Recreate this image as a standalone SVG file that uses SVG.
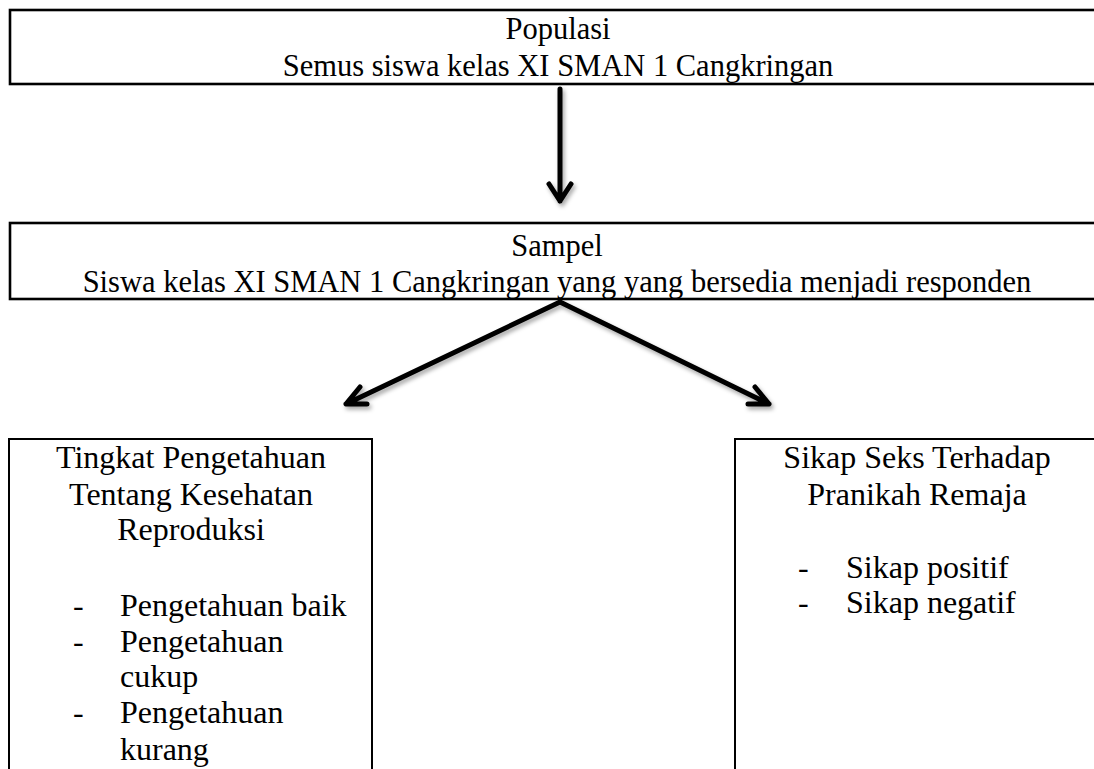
<svg xmlns="http://www.w3.org/2000/svg" width="1094" height="769" viewBox="0 0 1094 769">
<style>
text{font-family:"Liberation Serif","Times New Roman",serif;fill:#000}
.t{font-size:30.5px}
.b{font-size:32px}
.c{text-anchor:middle}
.box{fill:#fff;stroke:#000;stroke-width:2.6}
.box2{fill:#fff;stroke:#000;stroke-width:2}
.arr{fill:none;stroke:#000;stroke-width:5;stroke-linecap:round;stroke-linejoin:round}
</style>
<defs>
<filter id="sh" x="-20%" y="-20%" width="140%" height="140%">
<feDropShadow dx="2" dy="3" stdDeviation="2" flood-color="#000" flood-opacity="0.35"/>
</filter>
</defs>
<rect width="1094" height="769" fill="#fff"/>
<g id="populasi">
<rect class="box" x="10" y="10" width="1100" height="74"/>
<text class="t c" x="558" y="39">Populasi</text>
<text class="t c" x="558" y="76">Semus siswa kelas XI SMAN 1 Cangkringan</text>
</g>
<g id="sampel">
<rect class="box" x="10" y="223" width="1100" height="76"/>
<text class="t c" x="557" y="256">Sampel</text>
<text class="t c" x="557" y="292">Siswa kelas XI SMAN 1 Cangkringan yang yang bersedia menjadi responden</text>
</g>
<g id="pengetahuan">
<rect class="box2" x="9" y="439" width="363" height="340"/>
<text class="b c" x="191" y="468">Tingkat Pengetahuan</text>
<text class="b c" x="191" y="505">Tentang Kesehatan</text>
<text class="b c" x="191" y="540">Reproduksi</text>
<text class="b" x="73" y="616">-</text>
<text class="b" x="120" y="616">Pengetahuan baik</text>
<text class="b" x="73" y="652">-</text>
<text class="b" x="120" y="652">Pengetahuan</text>
<text class="b" x="120" y="687">cukup</text>
<text class="b" x="73" y="723">-</text>
<text class="b" x="120" y="723">Pengetahuan</text>
<text class="b" x="120" y="760">kurang</text>
</g>
<g id="sikap">
<rect class="box2" x="735" y="439" width="400" height="340"/>
<text class="b c" x="917" y="468">Sikap Seks Terhadap</text>
<text class="b c" x="917" y="505">Pranikah Remaja</text>
<text class="b" x="798" y="578">-</text>
<text class="b" x="846" y="578">Sikap positif</text>
<text class="b" x="798" y="613">-</text>
<text class="b" x="846" y="613">Sikap negatif</text>
</g>
<g id="connectors" filter="url(#sh)">
<path class="arr" d="M560 89 L560 201 M549 184 L560 201 L571 184"/>
<path class="arr" d="M560 302 L346 404 M360 387 L346 404 L367 404"/>
<path class="arr" d="M560 302 L769 404 M755 387 L769 404 L748 404"/>
</g>
</svg>
